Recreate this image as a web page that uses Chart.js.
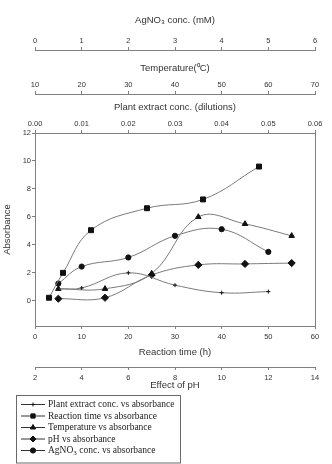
<!DOCTYPE html>
<html>
<head>
<meta charset="utf-8">
<script src="https://cdn.jsdelivr.net/npm/chart.js@4/dist/chart.umd.min.js"></script>
<style>
  body{margin:0;background:#fff;}
</style>
</head>
<body>
<canvas id="myChart" width="332" height="464"></canvas>
<script>
// each series sits on its own x axis, absorbance is shared
var plantConc = [0.005, 0.01, 0.02, 0.03, 0.04, 0.05];
var plantAbs  = [0.85, 0.92, 2.0, 1.12, 0.58, 0.66];

var reactionTime = [3, 6, 12, 24, 36, 48];
var timeAbs      = [0.22, 2.0, 5.05, 6.62, 7.25, 9.6];

var temperature = [15, 25, 35, 45, 55, 65];
var tempAbs     = [0.86, 0.86, 1.95, 6.0, 5.5, 4.65];

var pH    = [3, 5, 7, 9, 11, 13];
var phAbs = [0.15, 0.22, 1.85, 2.57, 2.64, 2.7];

var agConc = [0.5, 1, 2, 3, 4, 5];
var agAbs  = [1.24, 2.45, 3.1, 4.65, 5.12, 3.5];

// tick labels
var absTicks   = [0, 2, 4, 6, 8, 10, 12];
var timeTicks  = [0, 10, 20, 30, 40, 50, 60];
var phTicks    = [2, 4, 6, 8, 10, 12, 14];
var plantTicks = [0, 0.01, 0.02, 0.03, 0.04, 0.05, 0.06];
var tempTicks  = [10, 20, 30, 40, 50, 60, 70];
var agTicks    = [0, 1, 2, 3, 4, 5, 6];

var lineGray = "#7a7a7a";
var axisGray = "#808080";
var textCol  = "#333";
var tickFont  = {family: "'Liberation Sans', Arial, sans-serif", size: 7.5};
var titleFont = {family: "'Liberation Sans', Arial, sans-serif", size: 9.5};

function pts(xs, ys){
    var out = [];
    for(var i = 0; i < xs.length; i++)
        out.push({x: xs[i], y: ys[i]});
    return out;
}

function series(label, xs, ys, axis, style, radius){
    return {
        label: label,
        data: pts(xs, ys),
        xAxisID: axis,
        yAxisID: "y",
        borderColor: lineGray,
        borderWidth: 1,
        tension: 0.4,
        fill: false,
        pointStyle: style,
        pointRadius: radius,
        pointBackgroundColor: "#111",
        pointBorderColor: "#111",
        pointBorderWidth: 1
    };
}

// horizontal axis, stacked above or below the plot
function xAxis(pos, weight, title, ticks, lo, hi, height, titlePad, fmt){
    return {
        type: "linear",
        position: pos,
        weight: weight,
        min: lo,
        max: hi,
        afterBuildTicks: function(s){
            s.ticks = ticks.map(function(v){ return {value: v}; });
        },
        afterFit: function(s){ s.height = height; },
        ticks: {
            autoSkip: false,
            maxRotation: 0,
            padding: pos == "top" ? 2 : 3,
            font: tickFont,
            color: textCol,
            callback: fmt || function(v){ return String(v); }
        },
        grid: {drawOnChartArea: false, tickLength: 3, color: axisGray},
        border: {color: axisGray, width: 1},
        title: {
            display: true,
            text: title,
            font: titleFont,
            color: textCol,
            padding: pos == "top" ? {top: titlePad, bottom: 0} : {top: 0, bottom: titlePad}
        }
    };
}

// boxed legend under the bottom axes
var legendBox = {
    id: "legendBox",
    afterDraw: function(chart){
        var ctx = chart.ctx;
        var left = chart.chartArea.left - 19;
        var top = chart.scales.xPh.bottom + 3;
        var right = left + 164;
        var bottom = chart.height - 1;
        ctx.save();
        ctx.strokeStyle = "#6a6a6a";
        ctx.lineWidth = 1;
        ctx.strokeRect(left + 0.5, top + 0.5, right - left, bottom - top - 0.5);

        ctx.font = "9.5px 'Liberation Serif', 'Times New Roman', serif";
        ctx.textBaseline = "middle";
        chart.data.datasets.forEach(function(ds, i){
            var y = top + 9.5 + i * 11.5;
            ctx.strokeStyle = "#333";
            ctx.beginPath();
            ctx.moveTo(left + 5, y);
            ctx.lineTo(left + 29, y);
            ctx.stroke();
            ctx.fillStyle = "#111";
            ctx.strokeStyle = "#111";
            Chart.helpers.drawPoint(ctx, {
                pointStyle: ds.pointStyle,
                radius: Math.min(ds.pointRadius, 3),
                rotation: 0,
                borderWidth: 1
            }, left + 17, y);

            // AgNO3 gets a lowered 3
            ctx.fillStyle = "#222";
            var parts = ds.label.split("\u2083");
            var x = left + 32;
            ctx.fillText(parts[0], x, y);
            if(parts.length > 1){
                x += ctx.measureText(parts[0]).width;
                ctx.font = "7px 'Liberation Serif', 'Times New Roman', serif";
                ctx.fillText("3", x, y + 3);
                x += ctx.measureText("3").width;
                ctx.font = "9.5px 'Liberation Serif', 'Times New Roman', serif";
                ctx.fillText(parts[1], x, y);
            }
        });
        ctx.restore();
    }
};

var ctx = document.getElementById("myChart");

var myChart = new Chart(ctx, {
    type: "line",
    data: {
        datasets: [
            series("Plant extract conc. vs absorbance", plantConc, plantAbs, "xPlant", "cross", 2),
            series("Reaction time vs absorbance", reactionTime, timeAbs, "xTime", "rect", 3.5),
            series("Temperature vs absorbance", temperature, tempAbs, "xTemp", "triangle", 3.2),
            series("pH vs absorbance", pH, phAbs, "xPh", "rectRot", 3.6),
            series("AgNO\u2083 conc. vs absorbance", agConc, agAbs, "xAg", "circle", 2.6)
        ]
    },
    options: {
        responsive: false,
        animation: false,
        layout: {padding: {left: 0, right: 0, top: 0, bottom: 72}},
        plugins: {
            legend: {display: false},
            tooltip: {enabled: false}
        },
        scales: {
            xAg: xAxis("top", 3, "AgNO\u2083 conc. (mM)", agTicks, 0, 6, 50, 14.3),
            xTemp: xAxis("top", 2, "Temperature(\u2070C)", tempTicks, 10, 70, 44, 12.3),
            xPlant: xAxis("top", 1, "Plant extract conc. (dilutions)", plantTicks, 0, 0.06, 39, 7.3,
                function(v){ return v.toFixed(2); }),
            xTime: xAxis("bottom", 1, "Reaction time (h)", timeTicks, 0, 60, 41, 9.3),
            xPh: xAxis("bottom", 2, "Effect of pH", phTicks, 2, 14, 25, 1.3),
            y: {
                type: "linear",
                position: "left",
                min: -1.8,
                max: 12,
                afterBuildTicks: function(s){
                    s.ticks = absTicks.map(function(v){ return {value: v}; });
                },
                afterFit: function(s){ s.width = 35; },
                ticks: {padding: 1, font: tickFont, color: textCol},
                grid: {drawOnChartArea: false, tickLength: 3, color: axisGray},
                border: {color: axisGray, width: 1},
                title: {
                    display: true,
                    text: "Absorbance",
                    font: titleFont,
                    color: textCol,
                    padding: {top: 1.3, bottom: 0}
                }
            },
            y2: {
                type: "linear",
                position: "right",
                min: -1.8,
                max: 12,
                afterFit: function(s){ s.width = 17; },
                ticks: {display: false},
                grid: {display: false},
                border: {color: axisGray, width: 1}
            }
        }
    },
    plugins: [legendBox]
});
</script>
</body>
</html>
